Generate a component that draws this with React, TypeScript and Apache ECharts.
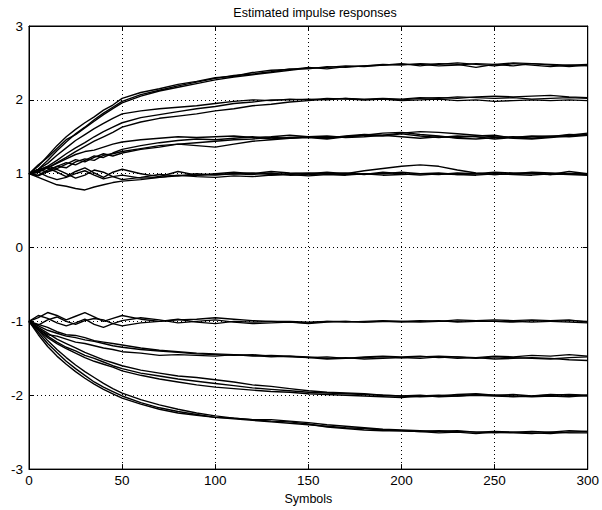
import React, { useEffect, useRef } from "react";
import * as echarts from "echarts";

const TITLE = "Estimated impulse responses";
const X_NAME = "Symbols";
const X = [0, 5, 10, 15, 20, 25, 30, 35, 40, 45, 50, 60, 70, 80, 90, 100, 110, 120, 130, 140, 150, 160, 170, 180, 190, 200, 210, 220, 230, 240, 250, 260, 270, 280, 290, 300];

const A1 = [1.00, 1.10, 1.24, 1.38, 1.50, 1.60, 1.69, 1.77, 1.86, 1.93, 2.02, 2.10, 2.15, 2.21, 2.25, 2.30, 2.32, 2.37, 2.40, 2.41, 2.44, 2.42, 2.45, 2.46, 2.47, 2.49, 2.46, 2.49, 2.48, 2.44, 2.48, 2.46, 2.49, 2.47, 2.45, 2.47];
const A2 = [1.00, 1.06, 1.18, 1.31, 1.43, 1.54, 1.63, 1.73, 1.82, 1.90, 1.98, 2.07, 2.13, 2.19, 2.24, 2.29, 2.33, 2.35, 2.38, 2.42, 2.42, 2.45, 2.44, 2.46, 2.48, 2.47, 2.49, 2.48, 2.50, 2.48, 2.46, 2.49, 2.47, 2.45, 2.47, 2.46];
const A3 = [1.00, 1.12, 1.22, 1.34, 1.46, 1.53, 1.62, 1.71, 1.80, 1.88, 1.96, 2.05, 2.12, 2.17, 2.22, 2.27, 2.31, 2.34, 2.37, 2.40, 2.43, 2.44, 2.46, 2.45, 2.47, 2.48, 2.48, 2.46, 2.47, 2.49, 2.48, 2.50, 2.49, 2.48, 2.47, 2.48];

const B1 = [1.00, 1.06, 1.14, 1.25, 1.35, 1.45, 1.53, 1.61, 1.68, 1.75, 1.81, 1.85, 1.88, 1.90, 1.92, 1.95, 1.98, 2.00, 1.99, 2.01, 2.00, 2.02, 2.01, 2.00, 2.01, 2.00, 2.02, 2.03, 2.02, 2.04, 2.05, 2.04, 2.05, 2.06, 2.04, 2.03];
const B2 = [1.00, 1.02, 1.08, 1.15, 1.22, 1.30, 1.37, 1.44, 1.50, 1.56, 1.63, 1.70, 1.75, 1.78, 1.81, 1.85, 1.88, 1.92, 1.94, 1.97, 1.99, 2.01, 2.02, 2.00, 2.01, 1.99, 2.00, 2.01, 1.99, 2.00, 1.98, 1.99, 2.00, 1.99, 2.00, 1.99];
const B3 = [1.00, 1.05, 1.10, 1.18, 1.27, 1.35, 1.42, 1.50, 1.57, 1.63, 1.69, 1.76, 1.80, 1.84, 1.88, 1.91, 1.95, 1.97, 2.00, 2.00, 2.01, 2.00, 2.02, 2.01, 2.02, 2.01, 2.03, 2.02, 2.04, 2.03, 2.02, 2.03, 2.01, 2.02, 2.03, 2.02];

const C1 = [1.00, 1.05, 1.08, 1.14, 1.20, 1.26, 1.30, 1.32, 1.36, 1.40, 1.43, 1.46, 1.48, 1.50, 1.49, 1.50, 1.51, 1.49, 1.50, 1.52, 1.50, 1.51, 1.49, 1.50, 1.52, 1.55, 1.57, 1.56, 1.54, 1.52, 1.50, 1.49, 1.51, 1.50, 1.52, 1.55];
const C2 = [1.00, 0.98, 1.05, 1.10, 1.15, 1.12, 1.18, 1.24, 1.22, 1.28, 1.33, 1.38, 1.42, 1.45, 1.47, 1.46, 1.48, 1.50, 1.47, 1.49, 1.50, 1.48, 1.51, 1.53, 1.52, 1.50, 1.48, 1.50, 1.49, 1.51, 1.52, 1.48, 1.47, 1.49, 1.51, 1.53];
const C3 = [1.00, 1.06, 1.02, 1.10, 1.08, 1.16, 1.20, 1.18, 1.25, 1.27, 1.30, 1.34, 1.38, 1.40, 1.38, 1.36, 1.40, 1.44, 1.46, 1.48, 1.49, 1.47, 1.50, 1.52, 1.55, 1.56, 1.53, 1.51, 1.48, 1.47, 1.49, 1.50, 1.48, 1.50, 1.53, 1.52];
const C4 = [1.00, 1.03, 1.10, 1.07, 1.13, 1.19, 1.16, 1.22, 1.27, 1.24, 1.28, 1.33, 1.36, 1.40, 1.42, 1.44, 1.46, 1.47, 1.49, 1.48, 1.50, 1.49, 1.50, 1.52, 1.51, 1.54, 1.51, 1.49, 1.51, 1.50, 1.47, 1.49, 1.50, 1.51, 1.50, 1.52];

const D1 = [1.00, 0.95, 0.90, 0.85, 0.83, 0.80, 0.78, 0.82, 0.85, 0.88, 0.90, 0.92, 0.95, 0.97, 0.98, 0.99, 1.00, 1.01, 0.99, 1.00, 1.01, 1.00, 0.99, 1.00, 1.00, 1.02, 1.00, 0.99, 1.01, 1.00, 0.99, 1.00, 1.01, 0.99, 1.00, 0.99];
const D2 = [1.00, 1.05, 1.08, 1.02, 0.96, 1.03, 1.08, 1.01, 0.95, 1.02, 1.06, 1.00, 0.96, 1.03, 0.98, 1.00, 1.02, 1.00, 1.03, 1.01, 1.00, 1.02, 1.00, 1.04, 1.07, 1.10, 1.12, 1.10, 1.05, 1.01, 0.99, 1.00, 1.02, 1.01, 1.00, 1.00];
const D3 = [1.00, 0.97, 1.03, 1.06, 1.00, 0.94, 0.98, 1.05, 1.02, 0.96, 0.92, 0.95, 0.99, 0.97, 1.00, 0.98, 1.00, 0.99, 1.01, 0.98, 0.99, 1.00, 1.01, 0.99, 1.02, 1.00, 0.98, 1.00, 0.99, 1.00, 1.02, 1.01, 1.00, 0.99, 1.03, 1.00];
const D4 = [1.00, 1.02, 0.96, 0.92, 0.95, 1.00, 1.04, 0.98, 0.93, 0.96, 0.98, 0.94, 0.95, 0.98, 0.96, 0.95, 0.97, 0.96, 0.98, 0.99, 0.97, 0.99, 0.98, 1.00, 0.98, 0.99, 1.00, 1.01, 0.99, 0.98, 1.00, 0.99, 0.98, 1.00, 0.99, 0.98];

const E1 = [-1.00, -0.95, -0.88, -0.92, -0.98, -0.93, -0.88, -0.94, -1.00, -0.96, -0.92, -0.97, -1.00, -0.98, -0.97, -0.95, -0.97, -0.99, -1.00, -1.01, -1.02, -1.00, -1.01, -1.00, -0.99, -1.00, -0.99, -1.00, -0.98, -0.99, -0.98, -0.99, -0.98, -0.99, -0.98, -1.01];
const E2 = [-1.00, -1.05, -0.98, -0.94, -1.00, -1.04, -0.99, -0.96, -0.98, -1.03, -0.99, -0.95, -0.98, -1.02, -1.00, -0.98, -1.01, -1.03, -1.02, -1.01, -1.03, -1.01, -1.00, -1.01, -1.00, -1.01, -1.00, -0.99, -1.01, -1.00, -1.00, -1.01, -0.99, -1.00, -1.01, -1.02];
const E3 = [-1.00, -0.92, -0.96, -1.02, -1.06, -1.02, -0.97, -1.04, -1.08, -1.03, -1.06, -1.02, -1.00, -0.97, -1.01, -1.03, -1.00, -1.01, -1.00, -1.00, -1.01, -1.00, -1.00, -1.01, -1.00, -1.00, -1.01, -1.00, -1.00, -0.99, -1.00, -1.00, -1.01, -1.00, -0.99, -1.00];

const F1 = [-1.00, -1.06, -1.12, -1.16, -1.20, -1.22, -1.25, -1.27, -1.30, -1.33, -1.35, -1.38, -1.40, -1.42, -1.44, -1.45, -1.46, -1.45, -1.47, -1.48, -1.49, -1.48, -1.50, -1.49, -1.48, -1.49, -1.48, -1.47, -1.48, -1.50, -1.48, -1.49, -1.50, -1.51, -1.49, -1.48];
const F2 = [-1.00, -1.10, -1.18, -1.20, -1.24, -1.28, -1.30, -1.33, -1.36, -1.38, -1.41, -1.43, -1.46, -1.45, -1.46, -1.47, -1.45, -1.46, -1.48, -1.47, -1.48, -1.50, -1.49, -1.51, -1.50, -1.49, -1.50, -1.48, -1.50, -1.49, -1.51, -1.50, -1.49, -1.50, -1.52, -1.53];
const F3 = [-1.00, -1.04, -1.08, -1.14, -1.18, -1.19, -1.22, -1.26, -1.28, -1.30, -1.32, -1.36, -1.39, -1.41, -1.43, -1.44, -1.45, -1.47, -1.46, -1.47, -1.49, -1.51, -1.50, -1.48, -1.47, -1.48, -1.47, -1.49, -1.48, -1.49, -1.47, -1.48, -1.46, -1.47, -1.45, -1.47];

const G1 = [-1.00, -1.10, -1.20, -1.28, -1.35, -1.40, -1.46, -1.50, -1.55, -1.60, -1.64, -1.70, -1.74, -1.78, -1.81, -1.84, -1.87, -1.90, -1.92, -1.94, -1.96, -1.97, -1.98, -1.99, -2.00, -2.01, -2.02, -2.01, -1.99, -1.98, -2.00, -1.99, -2.01, -2.00, -1.99, -2.00];
const G2 = [-1.00, -1.08, -1.16, -1.24, -1.30, -1.36, -1.42, -1.47, -1.52, -1.56, -1.60, -1.66, -1.70, -1.74, -1.76, -1.79, -1.82, -1.86, -1.88, -1.91, -1.94, -1.96, -1.97, -1.98, -2.00, -2.01, -2.00, -2.02, -2.01, -2.00, -2.01, -2.02, -2.01, -1.99, -2.00, -2.01];
const G3 = [-1.00, -1.12, -1.22, -1.30, -1.37, -1.43, -1.49, -1.54, -1.58, -1.62, -1.67, -1.73, -1.78, -1.82, -1.86, -1.89, -1.91, -1.93, -1.95, -1.96, -1.98, -1.99, -2.00, -2.01, -2.02, -2.03, -2.01, -2.00, -2.01, -1.99, -2.00, -2.01, -2.02, -2.01, -2.02, -2.00];

const H1 = [-1.00, -1.15, -1.30, -1.42, -1.54, -1.64, -1.73, -1.82, -1.89, -1.95, -2.01, -2.10, -2.17, -2.22, -2.26, -2.30, -2.32, -2.34, -2.36, -2.38, -2.40, -2.42, -2.44, -2.45, -2.47, -2.48, -2.49, -2.48, -2.49, -2.50, -2.51, -2.50, -2.49, -2.50, -2.48, -2.49];
const H2 = [-1.00, -1.18, -1.34, -1.47, -1.58, -1.68, -1.77, -1.85, -1.92, -1.98, -2.04, -2.12, -2.19, -2.24, -2.27, -2.30, -2.31, -2.33, -2.35, -2.36, -2.39, -2.43, -2.45, -2.47, -2.48, -2.48, -2.49, -2.51, -2.50, -2.52, -2.50, -2.51, -2.52, -2.50, -2.51, -2.51];
const H3 = [-1.00, -1.12, -1.26, -1.38, -1.49, -1.59, -1.68, -1.76, -1.84, -1.91, -1.97, -2.06, -2.13, -2.19, -2.24, -2.28, -2.31, -2.33, -2.33, -2.35, -2.37, -2.40, -2.42, -2.44, -2.46, -2.47, -2.48, -2.49, -2.48, -2.50, -2.49, -2.50, -2.51, -2.52, -2.50, -2.49];

const SERIES = [A1, A2, A3, B1, B2, B3, C1, C2, C3, C4, D1, D2, D3, D4, E1, E2, E3, F1, F2, F3, G1, G2, G3, H1, H2, H3];

const FONT = "'Liberation Sans', Arial, Helvetica, sans-serif";

export default function App() {
  const ref = useRef<HTMLDivElement>(null);
  useEffect(() => {
    document.body.style.margin = "0";
    const chart = echarts.init(ref.current!, undefined, { renderer: "svg" });
    const axisText = { color: "#000", fontFamily: FONT, fontSize: 13.5 };
    const dotted = { show: true, lineStyle: { color: "#000", type: [1, 3], width: 1 } };
    chart.setOption({
      animation: false,
      backgroundColor: "#fff",
      title: {
        text: TITLE,
        left: 310,
        textAlign: "center",
        top: 1,
        textStyle: { color: "#000", fontFamily: FONT, fontSize: 12.5, fontWeight: "normal" },
      },
      grid: { left: 29, right: 10, top: 26, bottom: 39, show: true, borderColor: "#000", borderWidth: 1, backgroundColor: "transparent" },
      xAxis: [
        {
          type: "value", min: 0, max: 300, interval: 50,
          name: X_NAME, nameLocation: "middle", nameGap: 21,
          nameTextStyle: { ...axisText, fontSize: 12.5 },
          axisLine: { show: true, onZero: false, lineStyle: { color: "#000" } },
          axisTick: { show: true, inside: true, length: 5, lineStyle: { color: "#000" } },
          axisLabel: { ...axisText, margin: 4 },
          splitLine: dotted,
        },
        {
          type: "value", min: 0, max: 300, interval: 50, position: "top",
          axisLine: { show: true, onZero: false, lineStyle: { color: "#000" } },
          axisTick: { show: true, inside: true, length: 5, lineStyle: { color: "#000" } },
          axisLabel: { show: false },
          splitLine: { show: false },
        },
      ],
      yAxis: [
        {
          type: "value", min: -3, max: 3, interval: 1,
          axisLine: { show: true, onZero: false, lineStyle: { color: "#000" } },
          axisTick: { show: true, inside: true, length: 5, lineStyle: { color: "#000" } },
          axisLabel: { ...axisText, margin: 6 },
          splitLine: dotted,
        },
        {
          type: "value", min: -3, max: 3, interval: 1, position: "right",
          axisLine: { show: true, onZero: false, lineStyle: { color: "#000" } },
          axisTick: { show: true, inside: true, length: 5, lineStyle: { color: "#000" } },
          axisLabel: { show: false },
          splitLine: { show: false },
        },
      ],
      series: SERIES.map((ys, k) => ({
        name: "r" + k,
        type: "line",
        xAxisIndex: 0,
        yAxisIndex: 0,
        showSymbol: false,
        symbol: "none",
        silent: true,
        lineStyle: { color: "#000", width: 1.4 },
        data: X.map((x, i) => [x, ys[i]]),
      })),
    });
    return () => chart.dispose();
  }, []);
  return <div ref={ref} style={{ width: 602, height: 510 }} />;
}
